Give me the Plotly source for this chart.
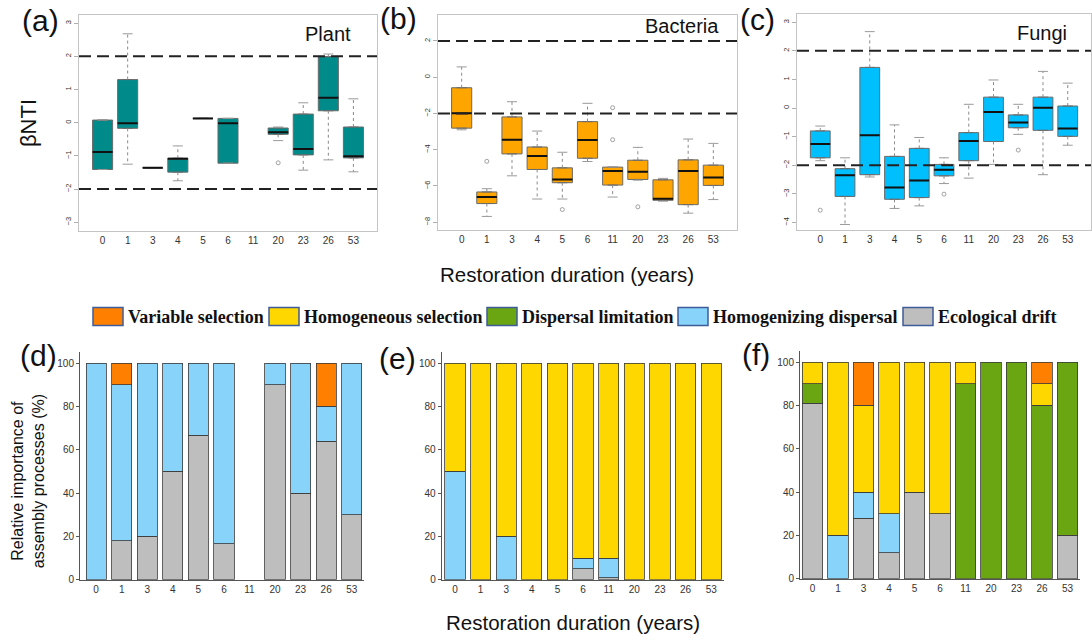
import plotly.graph_objects as go

W, H = 1092, 643

def fx(px):
    return px / W

def fy(py):
    return 1 - py / H

years = ["0", "1", "3", "4", "5", "6", "11", "20", "23", "26", "53"]

# ---- βNTI box statistics per restoration age (None = no samples) ----
plant_low = [-1.41, -1.25, -1.36, -1.75, 0.13, -1.22, None, -0.54, -1.43, -1.12, -1.48]
plant_q1 = [-1.41, -0.17, -1.36, -1.49, 0.13, -1.22, None, -0.35, -0.97, 0.36, -1.06]
plant_med = [-0.88, -0.02, -1.36, -1.09, 0.13, -0.02, None, -0.29, -0.79, 0.75, -1.01]
plant_q3 = [0.08, 1.30, -1.36, -1.07, 0.13, 0.13, None, -0.16, 0.26, 1.99, -0.13]
plant_high = [0.08, 2.68, -1.36, -0.70, 0.13, 0.13, None, -0.13, 0.60, 2.07, 0.72]
plant_out_age = ["20"]
plant_out_val = [-1.21]

bact_low = [-2.90, -7.68, -5.44, -6.72, -6.72, -4.65, -6.61, -5.68, -6.84, -7.50, -6.75]
bact_q1 = [-2.81, -6.97, -4.23, -5.09, -5.82, -4.47, -5.95, -5.64, -6.79, -7.03, -5.97]
bact_med = [-1.99, -6.61, -3.45, -4.34, -5.64, -3.47, -5.18, -5.22, -6.70, -5.18, -5.53]
bact_q3 = [-0.58, -6.33, -2.19, -3.85, -5.00, -2.45, -4.96, -4.58, -5.66, -4.56, -4.85]
bact_high = [0.57, -6.15, -1.35, -2.97, -4.14, -1.44, -4.96, -3.87, -5.58, -3.41, -3.65]
bact_out_age = ["1", "5", "11", "11", "20"]
bact_out_val = [-4.64, -7.30, -1.68, -3.45, -7.15]

fungi_low = [-1.84, -4.07, -2.41, -3.51, -3.42, -2.64, -2.45, -1.97, -0.92, -2.33, -1.30]
fungi_q1 = [-1.74, -3.09, -2.33, -3.19, -3.13, -2.37, -1.84, -1.17, -0.69, -0.78, -0.99]
fungi_med = [-1.26, -2.35, -0.95, -2.78, -2.53, -2.16, -1.15, -0.14, -0.51, 0.01, -0.72]
fungi_q3 = [-0.80, -2.12, 1.42, -1.69, -1.41, -1.97, -0.86, 0.38, -0.24, 0.38, 0.07]
fungi_high = [-0.63, -1.74, 2.67, -0.59, -1.03, -1.74, 0.13, 0.98, 0.13, 1.28, 0.87]
fungi_out_age = ["0", "6", "23"]
fungi_out_val = [-3.57, -3.01, -1.47]

# ---- relative importance of assembly processes (%) ----
processes = ["Variable selection", "Homogeneous selection", "Dispersal limitation",
             "Homogenizing dispersal", "Ecological drift"]
proc_colors = ["#FF8000", "#FFD700", "#6AA512", "#87D3FA", "#BEBEBE"]

plant_vs = [0, 10, 0, 0, 0, 0, 0, 0, 0, 20, 0]
plant_hs = [0, 0, 0, 0, 0, 0, 0, 0, 0, 0, 0]
plant_dl = [0, 0, 0, 0, 0, 0, 0, 0, 0, 0, 0]
plant_hd = [100, 72, 80, 50, 33.3, 83.3, 0, 10, 60, 16, 70]
plant_dr = [0, 18, 20, 50, 66.7, 16.7, 0, 90, 40, 64, 30]

bact_vs = [0, 0, 0, 0, 0, 0, 0, 0, 0, 0, 0]
bact_hs = [50, 100, 80, 100, 100, 90, 90, 100, 100, 100, 100]
bact_dl = [0, 0, 0, 0, 0, 0, 0, 0, 0, 0, 0]
bact_hd = [50, 0, 20, 0, 0, 5, 9, 0, 0, 0, 0]
bact_dr = [0, 0, 0, 0, 0, 5, 1, 0, 0, 0, 0]

fungi_vs = [0, 0, 20, 0, 0, 0, 0, 0, 0, 10, 0]
fungi_hs = [10, 80, 40, 70, 60, 70, 10, 0, 0, 10, 0]
fungi_dl = [9, 0, 0, 0, 0, 0, 90, 100, 100, 80, 80]
fungi_hd = [0, 20, 12, 18, 0, 0, 0, 0, 0, 0, 0]
fungi_dr = [81, 0, 28, 12, 40, 30, 0, 0, 0, 0, 20]

SANS = "Arial, Liberation Sans, sans-serif"
SERIF = "Times New Roman, Liberation Serif, serif"
BOXW = 0.8

fig = go.Figure()


def add_boxes(n, low, q1, med, q3, high, out_age, out_val, fill):
    xa, ya = ("x", "y") if n == 1 else (f"x{n}", f"y{n}")
    idx = [i for i in range(len(years)) if med[i] is not None]
    pos = [i + 1 for i in idx]
    # dotted whiskers and solid staples
    wx, wy, sx, sy = [], [], [], []
    for i, p in zip(idx, pos):
        wx += [p, p, None, p, p, None]
        wy += [q3[i], high[i], None, q1[i], low[i], None]
        sx += [p - BOXW / 4, p + BOXW / 4, None, p - BOXW / 4, p + BOXW / 4, None]
        sy += [high[i], high[i], None, low[i], low[i], None]
    fig.add_trace(go.Scatter(x=wx, y=wy, mode="lines", xaxis=xa, yaxis=ya,
                             line=dict(color="#8a8a8a", width=1, dash="dot"),
                             showlegend=False, hoverinfo="skip"))
    fig.add_trace(go.Scatter(x=sx, y=sy, mode="lines", xaxis=xa, yaxis=ya,
                             line=dict(color="#9a9a9a", width=1),
                             showlegend=False, hoverinfo="skip"))
    fig.add_trace(go.Box(x=pos, q1=[q1[i] for i in idx], median=[med[i] for i in idx],
                         q3=[q3[i] for i in idx], lowerfence=[q1[i] for i in idx],
                         upperfence=[q3[i] for i in idx], width=BOXW,
                         fillcolor=fill, line=dict(color="#6a6a6a", width=1),
                         boxpoints=False, xaxis=xa, yaxis=ya, showlegend=False))
    mx, my = [], []
    for i, p in zip(idx, pos):
        mx += [p - BOXW / 2, p + BOXW / 2, None]
        my += [med[i], med[i], None]
    fig.add_trace(go.Scatter(x=mx, y=my, mode="lines", xaxis=xa, yaxis=ya,
                             line=dict(color="#111111", width=2),
                             showlegend=False, hoverinfo="skip"))
    fig.add_trace(go.Scatter(x=[years.index(a) + 1 for a in out_age], y=out_val,
                             mode="markers", xaxis=xa, yaxis=ya,
                             marker=dict(symbol="circle-open", size=4,
                                         color="#8a8a8a", line=dict(width=0.8)),
                             showlegend=False, hoverinfo="skip"))


add_boxes(1, plant_low, plant_q1, plant_med, plant_q3, plant_high,
          plant_out_age, plant_out_val, "#008B8B")
add_boxes(2, bact_low, bact_q1, bact_med, bact_q3, bact_high,
          bact_out_age, bact_out_val, "#FFA500")
add_boxes(3, fungi_low, fungi_q1, fungi_med, fungi_q3, fungi_high,
          fungi_out_age, fungi_out_val, "#00BFFF")


def add_bars(n, vs, hs, dl, hd, dr):
    # stacked bottom-up: drift, homogenizing dispersal, dispersal limitation,
    # homogeneous selection, variable selection
    series = [(dr, 4), (hd, 3), (dl, 2), (hs, 1), (vs, 0)]
    for vals, k in series:
        fig.add_trace(go.Bar(x=list(range(len(years))),
                             y=[v if v else None for v in vals],
                             width=0.79, marker=dict(color=proc_colors[k],
                                                     line=dict(color="#3a3a3a", width=0.8)),
                             name=processes[k], xaxis=f"x{n}", yaxis=f"y{n}",
                             showlegend=False))


add_bars(4, plant_vs, plant_hs, plant_dl, plant_hd, plant_dr)
add_bars(5, bact_vs, bact_hs, bact_dl, bact_hd, bact_dr)
add_bars(6, fungi_vs, fungi_hs, fungi_dl, fungi_hd, fungi_dr)

layout = dict(
    width=W, height=H, margin=dict(l=0, r=0, t=0, b=0),
    paper_bgcolor="white", plot_bgcolor="white", barmode="stack",
    font=dict(family=SANS, color="#222"), showlegend=False,
)

# top row: box plots framed R-style
top = [(1, 79, 377, 15, 233, [-3.27, 3.25], [-3, -2, -1, 0, 1, 2, 3]),
       (2, 438, 737, 15, 232, [-8.44, 3.44], [-8, -6, -4, -2, 0, 2]),
       (3, 797, 1091, 14, 232, [-4.27, 3.29], [-4, -3, -2, -1, 0, 1, 2, 3])]
for n, x0, x1, y0, y1, yr, yt in top:
    s = "" if n == 1 else str(n)
    layout[f"xaxis{s}"] = dict(
        domain=[fx(x0), fx(x1)], range=[0.06, 11.94], anchor=f"y{s}",
        tickvals=list(range(1, 12)), ticktext=years, ticks="",
        tickfont=dict(size=10, color="#333"), showline=True, mirror=True,
        linecolor="#c4c4c4", linewidth=1, showgrid=False, zeroline=False)
    layout[f"yaxis{s}"] = dict(
        domain=[fy(y1), fy(y0)], range=yr, anchor=f"x{s}", tickvals=yt,
        tickangle=-90, ticks="outside", ticklen=4, tickcolor="#b0b0b0",
        tickfont=dict(size=7.5, color="#333"), showline=True, mirror=True,
        linecolor="#c4c4c4", linewidth=1, showgrid=False, zeroline=False)

# bottom row: stacked bars
bottom = [(4, 80, 364, 355, 584.3, [-0.63, 10.48]),
          (5, 441.7, 724, 355, 584.3, [-0.52, 10.5]),
          (6, 800, 1080, 354, 583.3, [-0.49, 10.49])]
for n, x0, x1, y0, y1, xr in bottom:
    layout[f"xaxis{n}"] = dict(
        domain=[fx(x0), fx(x1)], range=xr, anchor=f"y{n}",
        tickvals=list(range(len(years))), ticktext=years, ticks="",
        tickfont=dict(size=10, color="#333"), showline=True, linecolor="#555",
        linewidth=1, showgrid=False, zeroline=False)
    layout[f"yaxis{n}"] = dict(
        domain=[fy(y1), fy(y0)], range=[0, 105], anchor=f"x{n}",
        tickvals=[0, 20, 40, 60, 80, 100], ticks="outside", ticklen=3,
        tickcolor="#555", tickfont=dict(size=10, color="#333"), showline=True,
        linecolor="#555", linewidth=1, showgrid=False, zeroline=False)

shapes = []
# βNTI significance thresholds at ±2
for s in ["", "2", "3"]:
    for v in (2, -2):
        shapes.append(dict(type="line", xref=f"x{s} domain", x0=0, x1=1,
                           yref=f"y{s}", y0=v, y1=v,
                           line=dict(color="#222", width=2, dash="12px,6px")))

# legend swatches
legend_items = [(93, 0), (269, 1), (487, 2), (678, 3), (903, 4)]
annotations = []
for left, k in legend_items:
    shapes.append(dict(type="rect", xref="paper", yref="paper",
                       x0=fx(left), x1=fx(left + 30), y0=fy(328), y1=fy(310),
                       fillcolor=proc_colors[k], line=dict(color="#3E5C9A", width=1.5)))
    annotations.append(dict(text=f"<b>{processes[k]}</b>", xref="paper", yref="paper",
                            x=fx(left + 33), y=fy(319.5), xanchor="left", yanchor="middle",
                            showarrow=False, font=dict(family=SERIF, size=18, color="#111")))


def label(text, x, y, size, angle=0):
    annotations.append(dict(text=text, xref="paper", yref="paper", x=fx(x), y=fy(y),
                            xanchor="center", yanchor="middle", showarrow=False,
                            textangle=angle, font=dict(family=SANS, size=size, color="#111")))


for t, x, y in [("(a)", 40, 21), ("(b)", 398, 19), ("(c)", 757, 20),
                ("(d)", 38, 358), ("(e)", 397, 361), ("(f)", 756, 357)]:
    label(t, x, y, 30)
label("Plant", 328, 34, 20)
label("Bacteria", 682, 26, 20)
label("Fungi", 1042, 33, 20)
label("βNTI", 28, 124, 22, -90)
label("Restoration duration (years)", 567, 277, 20.5)
label("Restoration duration (years)", 573, 627, 20.5)
label("Relative importance of<br>assembly processes (%)", 28, 485, 16, -90)

layout["shapes"] = shapes
layout["annotations"] = annotations
fig.update_layout(**layout)
fig.write_html("out.html")
